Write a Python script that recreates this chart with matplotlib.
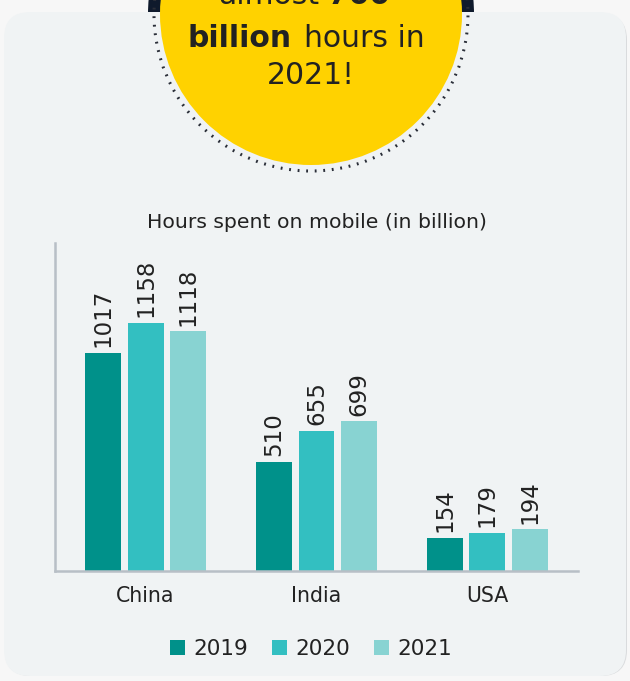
import matplotlib
matplotlib.use("Agg")
import matplotlib.pyplot as plt
import numpy as np
from matplotlib.patches import FancyBboxPatch, Circle, Patch

countries = ["China", "India", "USA"]
years = ["2019", "2020", "2021"]
hours_2019 = [1017, 510, 154]
hours_2020 = [1158, 655, 179]
hours_2021 = [1118, 699, 194]
series = [hours_2019, hours_2020, hours_2021]
colors = ["#00918A", "#33BFC1", "#88D3D2"]
title = "Hours spent on mobile (in billion)"

W, H = 630, 681
fig = plt.figure(figsize=(W / 100, H / 100), dpi=100)
fig.patch.set_facecolor("#f7f7f7")

# background layer in pixel coordinates
bg = fig.add_axes([0, 0, 1, 1], zorder=0)
bg.set_xlim(0, W)
bg.set_ylim(H, 0)
bg.axis("off")

cx, cy = 311, 14
bg.add_patch(Circle((cx, cy), 163, facecolor="#0f1a2c", edgecolor="none", zorder=1))
# shadow
bg.add_patch(FancyBboxPatch((5, 14), 622, 662, boxstyle="round,pad=0,rounding_size=26",
                            facecolor="#d9dbdd", edgecolor="none", zorder=2))
bg.add_patch(FancyBboxPatch((4, 12), 622, 664, boxstyle="round,pad=0,rounding_size=26",
                            facecolor="#f0f3f4", edgecolor="none", zorder=3))
bg.add_patch(Circle((cx, cy), 157, facecolor="none", edgecolor="#2a2e38",
                    linestyle=(0, (0.6, 2.2)), linewidth=2.2, zorder=4))
bg.add_patch(Circle((cx, cy), 151, facecolor="#FFD200", edgecolor="none", zorder=5))

tc = "#222222"
fs_big = 21.5
bg.text(218, 4, "almost", fontsize=fs_big, color=tc, ha="left", va="baseline", zorder=6)
bg.text(328, 4, "700", fontsize=fs_big, fontweight="bold", color=tc, ha="left", va="baseline", zorder=6)
bg.text(188, 47, "billion", fontsize=fs_big, fontweight="bold", color=tc, ha="left", va="baseline", zorder=6)
bg.text(304, 47, "hours in", fontsize=fs_big, color=tc, ha="left", va="baseline", zorder=6)
bg.text(cx, 84, "2021!", fontsize=fs_big, color=tc, ha="center", va="baseline", zorder=6)

# chart
ax = fig.add_axes([55 / W, 1 - 571 / H, (578 - 55) / W, (571 - 243) / H], zorder=2)
ax.set_facecolor("none")
x = np.arange(len(countries))
bw = 0.21
off = 0.25
for i, (vals, col, yr) in enumerate(zip(series, colors, years)):
    pos = x + (i - 1) * off
    bars = ax.bar(pos, vals, width=bw, color=col, label=yr, zorder=2)
    for b, v in zip(bars, vals):
        ax.annotate(str(v), (b.get_x() + b.get_width() / 2, v), xytext=(0, 4),
                    textcoords="offset points", rotation=90, ha="center", va="bottom",
                    fontsize=16.5, color=tc)

ax.set_xlim(-0.53, 2.53)
ax.set_ylim(0, 1530)
ax.set_xticks(x)
ax.set_xticklabels(countries, fontsize=14.8, color=tc)
ax.tick_params(axis="x", length=0, pad=11)
ax.set_yticks([])
for s in ["top", "right"]:
    ax.spines[s].set_visible(False)
for s in ["left", "bottom"]:
    ax.spines[s].set_color("#b8bfc6")
    ax.spines[s].set_linewidth(1.8)
ax.set_title(title, fontsize=14.7, color=tc, pad=11)

handles = [Patch(facecolor=c, edgecolor="none") for c in colors]
fig.legend(handles, years, loc="center", bbox_to_anchor=(311 / W, 1 - 649 / H), ncol=3,
           frameon=False, fontsize=15.5, handlelength=0.7, handleheight=0.7,
           handletextpad=0.4, columnspacing=1.1, labelcolor=tc)

fig.savefig("out.png", dpi=100, facecolor=fig.get_facecolor())
